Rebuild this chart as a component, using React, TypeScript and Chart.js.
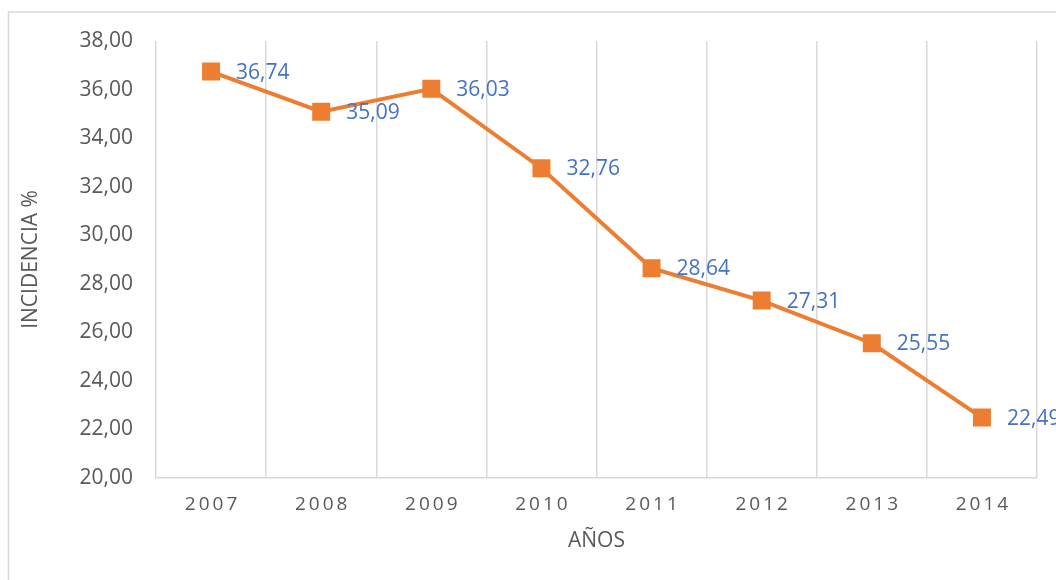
import React, { useEffect, useRef } from 'react';
import { Chart, registerables } from 'chart.js';

Chart.register(...registerables);

const years = ['2007', '2008', '2009', '2010', '2011', '2012', '2013', '2014'];
const incidence = [36.74, 35.09, 36.03, 32.76, 28.64, 27.31, 25.55, 22.49];
const yMin = 20;
const yMax = 38;
const yStep = 2;
const yTitle = 'INCIDENCIA %';
const xTitle = 'AÑOS';

const FONT = "'Open Sans', 'Noto Sans', sans-serif";
const fmt = (v: number) => v.toFixed(2).replace('.', ',');

const overlay = {
  id: 'overlay',
  afterDraw(chart: any) {
    const ctx = chart.ctx as CanvasRenderingContext2D;
    const area = chart.chartArea;
    ctx.save();
    // outer border
    ctx.strokeStyle = '#d9d9d9';
    ctx.lineWidth = 1.5;
    ctx.strokeRect(8.5, 12, 1200, 1000);

    // data labels
    const meta = chart.getDatasetMeta(0);
    ctx.font = `21px ${FONT}`;
    ctx.fillStyle = '#4472C4';
    ctx.textAlign = 'left';
    ctx.textBaseline = 'middle';
    meta.data.forEach((pt: any, i: number) => {
      ctx.fillText(fmt(incidence[i]), pt.x + 25, pt.y + 1);
    });

    // x tick labels with letter spacing
    const xs = chart.scales.x;
    ctx.fillStyle = '#595959';
    ctx.font = `19px ${FONT}`;
    (ctx as any).letterSpacing = '3px';
    ctx.textAlign = 'center';
    years.forEach((y, i) => {
      const px = xs.getPixelForValue(i);
      ctx.fillText(y, px + 1.5, 505);
    });
    (ctx as any).letterSpacing = '0px';

    // axis titles
    ctx.font = `21px ${FONT}`;
    ctx.fillText(xTitle, (area.left + area.right) / 2, 541);
    ctx.translate(31, (area.top + area.bottom) / 2);
    ctx.rotate(-Math.PI / 2);
    ctx.fillText(yTitle, 0, 0);
    ctx.restore();
  },
};

export default function App() {
  const ref = useRef<HTMLCanvasElement>(null);
  useEffect(() => {
    if (!ref.current) return;
    const chart = new Chart(ref.current, {
      type: 'line',
      data: {
        labels: years,
        datasets: [
          {
            data: incidence,
            borderColor: '#ED7D31',
            backgroundColor: '#ED7D31',
            borderWidth: 4,
            tension: 0,
            pointStyle: 'rect',
            pointRadius: 12.7,
            pointBorderWidth: 0,
            pointBackgroundColor: '#ED7D31',
          },
        ],
      },
      options: {
        animation: false,
        responsive: false,
        maintainAspectRatio: false,
        layout: { padding: { left: 0, top: 41, right: 19, bottom: 0 } },
        plugins: { legend: { display: false }, tooltip: { enabled: false } },
        scales: {
          x: {
            offset: true,
            grid: { display: true, offset: true, color: '#d9d9d9', lineWidth: 1.5, drawTicks: false },
            border: { display: true, color: '#d9d9d9', width: 1.5 },
            ticks: { display: false },
            afterFit: (s: any) => { s.height = 102; },
          },
          y: {
            min: yMin,
            max: yMax,
            grid: { display: false, drawTicks: false },
            border: { display: false },
            ticks: {
              stepSize: yStep,
              padding: 23,
              color: '#595959',
              font: { family: FONT, size: 21 },
              callback: (v: any) => fmt(Number(v)),
            },
            afterFit: (s: any) => { s.width = 156; },
          },
        },
      },
      plugins: [overlay],
    });
    return () => chart.destroy();
  }, []);
  return (
    <div style={{ position: 'fixed', left: 0, top: 0, width: 1056, height: 580, background: '#fff' }}>
      <canvas ref={ref} width={1056} height={580} style={{ display: 'block' }} />
    </div>
  );
}
